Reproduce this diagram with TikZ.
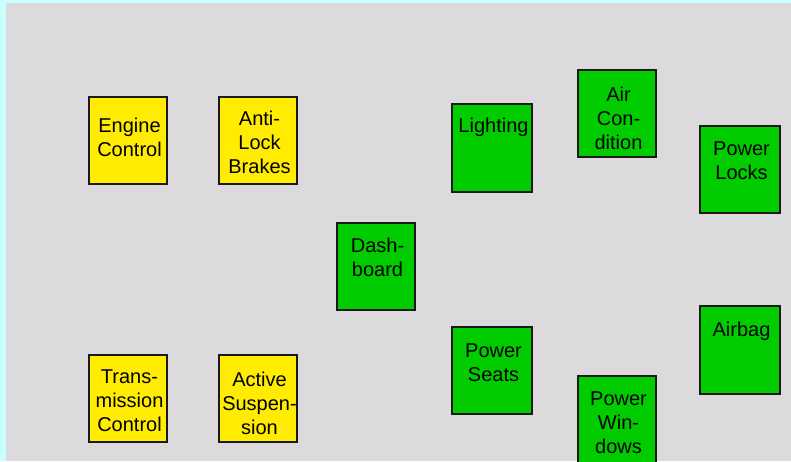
\documentclass[tikz,border=0pt]{standalone}
\usepackage{fontspec}
\setmainfont{Liberation Sans}
\usepackage{xcolor}
\usepackage{tikz}
\definecolor{panelgray}{RGB}{220,218,221}
\definecolor{framecyan}{RGB}{200,255,255}
\definecolor{ecuyellow}{RGB}{255,236,0}
\definecolor{ecugreen}{RGB}{0,204,0}
\definecolor{edgegray}{RGB}{26,26,26}

\begin{document}
\begin{tikzpicture}[
    x=1pt, y=-1pt,
    unit/.style={rectangle, draw=edgegray, line width=1.8pt,
                 minimum width=78.5pt, minimum height=87.5pt, inner sep=0pt},
    chassis/.style={unit, fill=ecuyellow},
    body/.style={unit, fill=ecugreen},
    caption/.style={anchor=north, inner sep=0pt, align=center,
                    font=\fontsize{20}{24}\selectfont,
                    xshift=1.5pt, yshift=-16pt},
]
    % Page and frame
    \useasboundingbox (0,0) rectangle (791,461);
    \clip (0,0) rectangle (791,461);
    \fill[framecyan] (0,0) rectangle (791,461);
    \fill[panelgray] (6,3) rectangle (791,461);

    % Chassis units
    \node[chassis, label={[caption, yshift=-6pt]north:Engine\\Control}]
        (engine) at (128,140.5) {};
    \node[chassis, label={[caption, yshift=1pt]north:Anti-\\Lock\\Brakes}]
        (brakes) at (258,140.5) {};
    \node[chassis, label={[caption]north:Trans-\\mission\\Control}]
        (trans) at (128,398.5) {};
    \node[chassis, label={[caption, yshift=-2pt]north:Active\\Suspen-\\sion}]
        (susp) at (258,398.5) {};

    % Body units
    \node[body, label={[caption]north:Dash-\\board}]
        (dash) at (376,266.5) {};
    \node[body, minimum width=80.5pt, label={[caption, yshift=2pt]north:Lighting}]
        (light) at (492,148) {};
    \node[body, label={[caption, yshift=-2pt]north:Air\\Con-\\dition}]
        (air) at (617,113.5) {};
    \node[body, minimum width=80.5pt, label={[caption, yshift=-1pt]north:Power\\Locks}]
        (locks) at (740,169.5) {};
    \node[body, minimum width=80.5pt, label={[caption, yshift=-2pt]north:Power\\Seats}]
        (seats) at (492,370.5) {};
    \node[body, minimum width=80.5pt, label={[caption]north:Airbag}]
        (airbag) at (740,350) {};
    \node[body, label={[caption, yshift=-1pt]north:Power\\Win-\\dows}]
        (windows) at (617,419.5) {};
\end{tikzpicture}
\end{document}
